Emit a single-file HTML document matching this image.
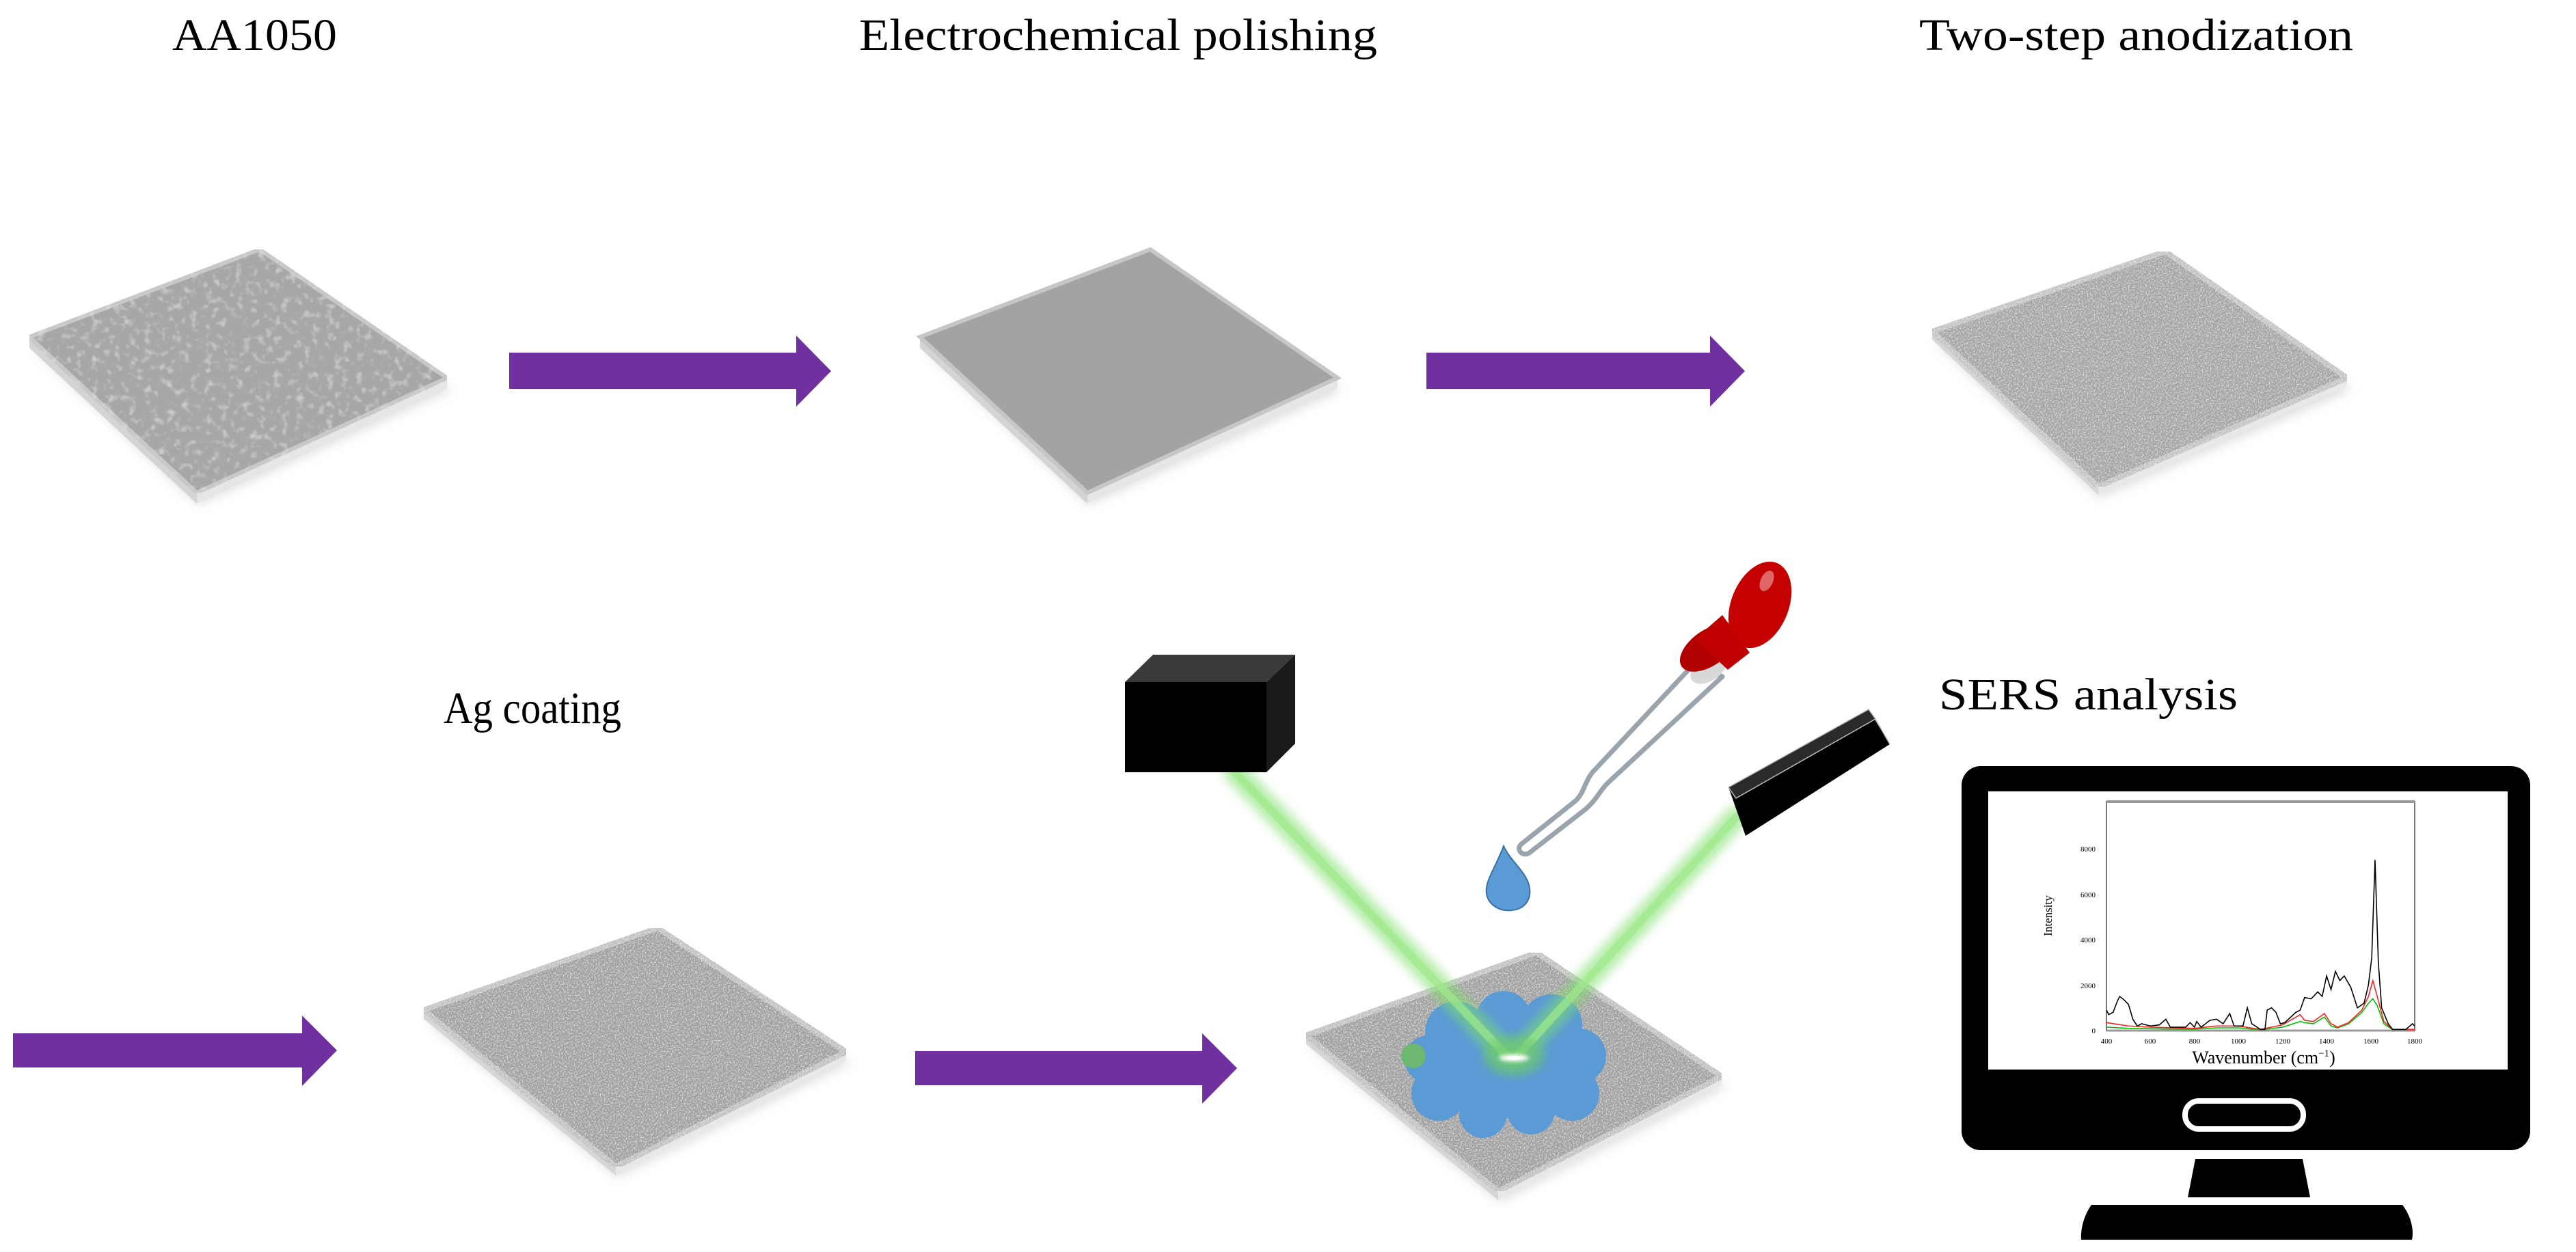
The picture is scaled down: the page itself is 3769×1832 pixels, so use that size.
<!DOCTYPE html>
<html><head><meta charset="utf-8"><style>
html,body{margin:0;padding:0;background:#fff;}
svg{display:block;}
text{font-family:"Liberation Serif",serif;fill:#000;}
</style></head><body>
<svg width="3769" height="1832" viewBox="0 0 3769 1832" xmlns="http://www.w3.org/2000/svg">
<defs>
<filter id="n1" x="0" y="0" width="1" height="1">
<feTurbulence type="fractalNoise" baseFrequency="0.09" numOctaves="2" seed="3" result="t"/>
<feColorMatrix in="t" type="matrix" values="0 0 0 0 0.8  0 0 0 0 0.8  0 0 0 0 0.8  1.6 0 0 0 -0.85" result="d"/>
<feComposite in="d" in2="SourceGraphic" operator="in" result="dd"/>
<feMerge><feMergeNode in="SourceGraphic"/><feMergeNode in="dd"/></feMerge>
</filter>
<filter id="n2" x="0" y="0" width="1" height="1">
<feTurbulence type="fractalNoise" baseFrequency="0.7" numOctaves="2" seed="5" result="t"/>
<feColorMatrix in="t" type="matrix" values="0 0 0 0 0.35  0 0 0 0 0.35  0 0 0 0 0.35  2.2 0 0 0 -1.0" result="d"/>
<feComposite in="d" in2="SourceGraphic" operator="in" result="dd"/>
<feTurbulence type="fractalNoise" baseFrequency="0.5" numOctaves="1" seed="9" result="t2"/>
<feColorMatrix in="t2" type="matrix" values="0 0 0 0 0.9  0 0 0 0 0.9  0 0 0 0 0.9  2.2 0 0 0 -1.0" result="w"/>
<feComposite in="w" in2="SourceGraphic" operator="in" result="ww"/>
<feMerge><feMergeNode in="SourceGraphic"/><feMergeNode in="dd"/><feMergeNode in="ww"/></feMerge>
</filter>
<filter id="sh" x="-10%" y="-10%" width="120%" height="130%"><feGaussianBlur stdDeviation="8"/></filter>
<filter id="glow" x="-20%" y="-20%" width="140%" height="140%"><feGaussianBlur stdDeviation="7"/></filter>
<filter id="bl" x="-50%" y="-50%" width="200%" height="200%"><feGaussianBlur stdDeviation="6"/></filter>
<filter id="bl2" x="-50%" y="-50%" width="200%" height="200%"><feGaussianBlur stdDeviation="3"/></filter>
</defs>

<!-- Titles -->
<text x="252" y="73" font-size="66" textLength="241" lengthAdjust="spacingAndGlyphs">AA1050</text>
<text x="1257" y="73" font-size="66" textLength="758" lengthAdjust="spacingAndGlyphs">Electrochemical polishing</text>
<text x="2808" y="73" font-size="66" textLength="635" lengthAdjust="spacingAndGlyphs">Two-step anodization</text>
<text x="649" y="1058" font-size="66" textLength="260" lengthAdjust="spacingAndGlyphs">Ag coating</text>
<text x="2837" y="1038" font-size="66" textLength="437" lengthAdjust="spacingAndGlyphs">SERS analysis</text>

<!-- Plate 1 -->
<g>
<polygon points="50,510 290,738 660,570 388,382" fill="#bbb" opacity="0.5" filter="url(#sh)"/>
<polygon points="43,493 288,721 288,737 43,509" fill="#d4d4d4"/>
<polygon points="288,721 654,553 654,568 288,737" fill="#e6e6e6"/>
<polygon points="43,493 380,365 654,553 288,721" fill="#a7a7a7" stroke="#c8c8c8" stroke-width="6" filter="url(#n1)"/>
</g>
<!-- Plate 2 -->
<g transform="translate(1303,0)">
<polygon points="50,510 290,738 660,570 388,382" fill="#bbb" opacity="0.5" filter="url(#sh)"/>
<polygon points="43,493 288,721 288,737 43,509" fill="#d4d4d4"/>
<polygon points="288,721 654,553 654,568 288,737" fill="#e6e6e6"/>
<polygon points="43,493 380,365 654,553 288,721" fill="#a3a3a3" stroke="#c6c6c6" stroke-width="6"/>
</g>
<!-- Plate 3 -->
<g>
<polygon points="2832,500 3072,728 3440,570 3172,384" fill="#bbb" opacity="0.5" filter="url(#sh)"/>
<polygon points="2827,485 3070,712 3070,724 2827,497" fill="#d6d6d6"/>
<polygon points="3070,712 3434,553 3434,565 3070,724" fill="#e8e8e8"/>
<polygon points="2827,485 3168,368 3434,553 3070,712" fill="#a6a6a6" stroke="#cacaca" stroke-width="8" filter="url(#n2)"/>
</g>
<!-- Plate 4 -->
<g>
<polygon points="625,1494 903,1722 1244,1555 966,1374" fill="#bbb" opacity="0.5" filter="url(#sh)"/>
<polygon points="620,1478 901,1707 901,1720 620,1491" fill="#d6d6d6"/>
<polygon points="901,1707 1238,1539 1238,1552 901,1720" fill="#e8e8e8"/>
<polygon points="620,1478 962,1358 1238,1539 901,1707" fill="#a0a0a0" stroke="#c8c8c8" stroke-width="8" filter="url(#n2)"/>
</g>
<!-- Plate 5 -->
<g>
<polygon points="1916,1530 2194,1758 2525,1590 2252,1410" fill="#bbb" opacity="0.5" filter="url(#sh)"/>
<polygon points="1911,1515 2192,1743 2192,1756 1911,1528" fill="#d6d6d6"/>
<polygon points="2192,1743 2519,1575 2519,1588 2192,1756" fill="#e8e8e8"/>
<polygon points="1911,1515 2248,1394 2519,1575 2192,1743" fill="#a0a0a0" stroke="#c8c8c8" stroke-width="8" filter="url(#n2)"/>
</g>

<!-- Arrows -->
<g fill="#7030a0">
<polygon points="745,516 1165,516 1165,491 1216,543 1165,595 1165,569 745,569"/>
<polygon points="2087,516 2502,516 2502,491 2553,543 2502,595 2502,569 2087,569"/>
<polygon points="19,1512 442,1512 442,1486 493,1537 442,1589 442,1562 19,1562"/>
<polygon points="1339,1538 1759,1538 1759,1512 1810,1563 1759,1615 1759,1588 1339,1588"/>
</g>

<!-- Puddle -->
<g fill="#5b9bd5">
<ellipse cx="2205" cy="1555" rx="120" ry="80"/>
<circle cx="2130" cy="1510" r="45"/><circle cx="2200" cy="1490" r="40"/><circle cx="2270" cy="1500" r="45"/>
<circle cx="2310" cy="1545" r="40"/><circle cx="2300" cy="1600" r="40"/><circle cx="2240" cy="1625" r="35"/>
<circle cx="2170" cy="1630" r="35"/><circle cx="2105" cy="1600" r="40"/><circle cx="2090" cy="1550" r="35"/>
<circle cx="2068" cy="1545" r="18" fill="#6cb870"/>
</g>

<!-- Beams -->
<g stroke-linecap="round">
<line x1="1807" y1="1130" x2="2205" y2="1545" stroke="#7ee06a" stroke-width="34" opacity="0.55" filter="url(#glow)"/>
<line x1="1807" y1="1130" x2="2205" y2="1545" stroke="#9fea8a" stroke-width="12" opacity="0.7"/>
<line x1="2540" y1="1196" x2="2220" y2="1545" stroke="#7ee06a" stroke-width="34" opacity="0.55" filter="url(#glow)"/>
<line x1="2540" y1="1196" x2="2220" y2="1545" stroke="#9fea8a" stroke-width="12" opacity="0.7"/>
</g>
<ellipse cx="2215" cy="1545" rx="45" ry="30" fill="#6cc86a" opacity="0.6" filter="url(#bl)"/>
<ellipse cx="2215" cy="1548" rx="22" ry="5" fill="#ffffff" filter="url(#bl2)"/>
<ellipse cx="2215" cy="1548" rx="10" ry="3" fill="#ffffff"/>

<!-- Black cube -->
<polygon points="1646,998 1687,958 1895,958 1853,998" fill="#3a3a3a"/>
<polygon points="1853,998 1895,958 1895,1088 1853,1130" fill="#1a1a1a"/>
<rect x="1646" y="998" width="207" height="132" fill="#000"/>

<!-- Black bar -->
<polygon points="2529,1152 2734,1038 2765,1089 2554,1223" fill="#000"/>
<polygon points="2529,1152 2734,1038 2744,1052 2540,1168" fill="#2a2a2a" stroke="#bbb" stroke-width="1.5"/>
<line x1="2744" y1="1052" x2="2765" y2="1089" stroke="#bbb" stroke-width="1.5"/>

<!-- Pipette -->
<path d="M2478,972 L2330,1130 C2318,1145 2318,1160 2305,1172 L2226,1235 C2216,1244 2230,1256 2240,1246 L2320,1184 C2336,1170 2340,1158 2352,1146 L2520,990 Z" fill="#fff" stroke="#9aa4ad" stroke-width="7" stroke-linejoin="round"/>
<path d="M2200,1238 C2188,1270 2172,1290 2175,1308 C2178,1325 2195,1334 2212,1332 C2232,1330 2242,1315 2237,1295 C2232,1275 2210,1260 2200,1238 Z" fill="#5b9bd5" stroke="#3a6ea5" stroke-width="2"/>
<ellipse cx="2500" cy="978" rx="30" ry="18" fill="#d8d8d8" transform="rotate(-35 2500 978)"/>
<ellipse cx="2500" cy="948" rx="48" ry="26" fill="#b00000" transform="rotate(-35 2500 948)"/>
<path d="M2480,935 L2520,900 L2560,955 L2528,980 Z" fill="#c00000"/>
<ellipse cx="2575" cy="885" rx="42" ry="66" fill="#c40000" transform="rotate(22 2575 885)"/>
<ellipse cx="2585" cy="850" rx="9" ry="16" fill="#e06666" transform="rotate(25 2585 850)"/>

<!-- Monitor -->
<rect x="2870" y="1121" width="832" height="562" rx="28" fill="#000"/>
<rect x="2909" y="1158" width="760" height="407" fill="#fff"/>
<rect x="3197" y="1611" width="173" height="41" rx="20" fill="none" stroke="#fff" stroke-width="8"/>
<polygon points="3212,1696 3369,1696 3380,1752 3201,1752" fill="#000"/>
<path d="M3060,1763 L3515,1763 C3528,1780 3532,1800 3529,1814 L3045,1814 C3044,1800 3048,1780 3060,1763 Z" fill="#000"/>

<!-- Chart -->
<rect x="3082" y="1173" width="451" height="335" fill="none" stroke="#777" stroke-width="2"/>
<line x1="3082" y1="1173" x2="3533" y2="1173" stroke="#999" stroke-width="4"/>
<line x1="3082" y1="1508" x2="3533" y2="1508" stroke="#999" stroke-width="3"/>
<g font-size="11" font-family="Liberation Serif" fill="#333">
<text x="3066" y="1512" text-anchor="end">0</text>
<text x="3066" y="1446" text-anchor="end">2000</text>
<text x="3066" y="1379" text-anchor="end">4000</text>
<text x="3066" y="1313" text-anchor="end">6000</text>
<text x="3066" y="1246" text-anchor="end">8000</text>
<text x="3082" y="1527" text-anchor="middle">400</text>
<text x="3146" y="1527" text-anchor="middle">600</text>
<text x="3211" y="1527" text-anchor="middle">800</text>
<text x="3275" y="1527" text-anchor="middle">1000</text>
<text x="3340" y="1527" text-anchor="middle">1200</text>
<text x="3404" y="1527" text-anchor="middle">1400</text>
<text x="3469" y="1527" text-anchor="middle">1600</text>
<text x="3533" y="1527" text-anchor="middle">1800</text>
</g>
<text x="3002" y="1340" font-size="17" text-anchor="middle" transform="rotate(-90 3002 1340)">Intensity</text>
<text x="3312" y="1556" font-size="26" text-anchor="middle">Wavenumber (cm<tspan font-size="15" dy="-10">−1</tspan><tspan dy="10">)</tspan></text>
<g transform="translate(3082,1508) scale(0.3221,-0.0333) translate(-400,0)" fill="none" stroke-width="1.6">
<polyline vector-effect="non-scaling-stroke" stroke="#00c000" points="400,150 500,100 600,80 800,60 900,120 1000,120 1100,30 1200,150 1280,400 1300,350 1340,300 1390,600 1420,200 1450,120 1500,300 1560,800 1590,1200 1610,1400 1630,1100 1660,300 1700,40 1800,40"/>
<polyline vector-effect="non-scaling-stroke" stroke="#ff2020" points="400,350 500,200 600,150 800,100 900,200 1000,200 1100,50 1200,250 1280,700 1300,450 1340,400 1390,750 1420,300 1450,150 1500,350 1560,900 1590,1500 1610,2200 1630,1500 1660,400 1700,50 1800,50"/>
<polyline vector-effect="non-scaling-stroke" stroke="#000" points="400,900 410,700 430,800 450,1300 460,1500 480,1350 500,1150 520,500 540,200 560,300 600,200 640,250 670,500 690,150 760,150 780,350 800,150 810,400 830,150 870,450 900,500 930,300 960,750 980,200 1020,200 1040,1000 1060,300 1100,50 1120,50 1130,900 1150,1000 1170,800 1190,300 1210,350 1260,800 1280,900 1300,1450 1330,1400 1360,1700 1380,1500 1400,2400 1420,1800 1440,2600 1460,2200 1480,2400 1510,1900 1540,1000 1570,1200 1590,2000 1605,3200 1620,7500 1635,3000 1650,1000 1680,300 1700,50 1760,50 1790,300 1800,200"/>
</g>
</svg>
</body></html>
